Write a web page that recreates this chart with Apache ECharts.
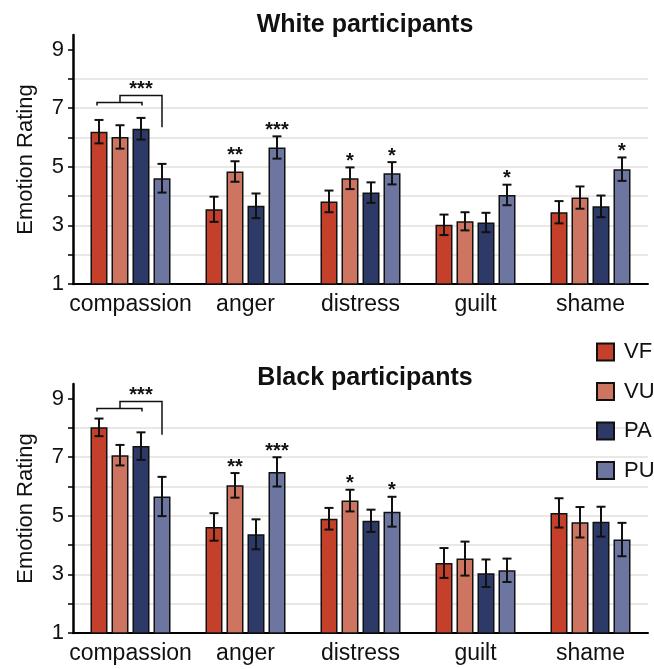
<!DOCTYPE html>
<html>
<head>
<meta charset="utf-8">
<script src="https://cdn.jsdelivr.net/npm/echarts@6/dist/echarts.min.js"></script>
<style>
  html, body { margin: 0; padding: 0; background: #fff; }
  #chart { width: 654px; height: 669px; }
</style>
</head>
<body>
<div id="chart"></div>
<script>
// Emotion categories and the four conditions
const emotions = ['compassion', 'anger', 'distress', 'guilt', 'shame'];
const conditions = ['VF', 'VU', 'PA', 'PU'];
const panelTitles = ['White participants', 'Black participants'];

// Y-axis ticks and labels
const yTickValues = [1, 2, 3, 4, 5, 6, 7, 8, 9];
const yLabelValues = [1, 3, 5, 7, 9];

// White participants: mean ratings
const whiteVF = [6.20, 3.55, 3.82, 3.02, 3.45];
const whiteVU = [6.02, 4.84, 4.61, 3.14, 3.95];
const whitePA = [6.30, 3.67, 4.12, 3.10, 3.65];
const whitePU = [4.61, 5.66, 4.78, 4.04, 4.92];
// White participants: error bar half-widths
const whiteErrVF = [0.40, 0.43, 0.37, 0.35, 0.38];
const whiteErrVU = [0.40, 0.35, 0.37, 0.31, 0.38];
const whiteErrPA = [0.37, 0.42, 0.35, 0.33, 0.37];
const whiteErrPU = [0.49, 0.38, 0.38, 0.35, 0.40];
// White participants: significance marks
const whiteSigVF = ['', '', '', '', ''];
const whiteSigVU = ['', '**', '*', '', ''];
const whiteSigPA = ['', '', '', '', ''];
const whiteSigPU = ['', '***', '*', '*', '*'];

// Black participants: mean ratings
const blackVF = [8.02, 4.62, 4.90, 3.39, 5.10];
const blackVU = [7.07, 6.04, 5.52, 3.54, 4.78];
const blackPA = [7.38, 4.37, 4.83, 3.04, 4.80];
const blackPU = [5.66, 6.50, 5.14, 3.14, 4.19];
// Black participants: error bar half-widths
const blackErrVF = [0.30, 0.47, 0.37, 0.51, 0.50];
const blackErrVU = [0.35, 0.42, 0.37, 0.58, 0.52];
const blackErrPA = [0.47, 0.51, 0.38, 0.47, 0.51];
const blackErrPU = [0.67, 0.50, 0.51, 0.40, 0.57];
// Black participants: significance marks
const blackSigVF = ['', '', '', '', ''];
const blackSigVU = ['', '**', '*', '', ''];
const blackSigPA = ['', '', '', '', ''];
const blackSigPU = ['', '***', '*', '', ''];

// Compassion bracket: "***" for VF/VU/PA vs PU
const bracketLabel = '***';

const panels = [
  {
    means: [whiteVF, whiteVU, whitePA, whitePU],
    errs: [whiteErrVF, whiteErrVU, whiteErrPA, whiteErrPU],
    sigs: [whiteSigVF, whiteSigVU, whiteSigPA, whiteSigPU],
    bracket: { low: 7.20, drop: 6.35 }
  },
  {
    means: [blackVF, blackVU, blackPA, blackPU],
    errs: [blackErrVF, blackErrVU, blackErrPA, blackErrPU],
    sigs: [blackSigVF, blackSigVU, blackSigPA, blackSigPU],
    bracket: { low: 8.66, drop: 7.77 }
  }
];

const COLORS = ['#c4402a', '#cd7561', '#2d3966', '#6d75a1'];
const FONT = "'Liberation Sans', Arial, Helvetica, sans-serif";
const BAR_W = 17;
const BAR_GAP = 4;
const STEP = BAR_W + BAR_GAP;

function barOffset(cond) {
  return (cond - 1.5) * STEP;
}

function errorRenderer(items) {
  return function (params, api) {
    const it = items[params.dataIndex];
    const center = api.coord([it.cat, it.mean]);
    const x = center[0] + barOffset(it.cond);
    const yHi = api.coord([it.cat, it.mean + it.err])[1];
    const yLo = api.coord([it.cat, it.mean - it.err])[1];
    const ls = { stroke: '#111', lineWidth: 2 };
    const children = [
      { type: 'line', shape: { x1: x, y1: yHi, x2: x, y2: yLo }, style: ls },
      { type: 'line', shape: { x1: x - 4.5, y1: yHi, x2: x + 4.5, y2: yHi }, style: ls },
      { type: 'line', shape: { x1: x - 4.5, y1: yLo, x2: x + 4.5, y2: yLo }, style: ls }
    ];
    if (it.sig) {
      children.push({
        type: 'text',
        style: {
          text: it.sig, x: x, y: yHi - 6,
          align: 'center', verticalAlign: 'middle',
          font: 'bold 20px ' + FONT, fill: '#111'
        }
      });
    }
    return { type: 'group', children: children };
  };
}

function bracketRenderer(br) {
  return function (params, api) {
    const c0 = api.coord([0, br.low]);
    const cx = c0[0];
    const yLow = c0[1];
    const yUp = yLow - 7;
    const yDrop = api.coord([0, br.drop])[1];
    const xVF = cx + barOffset(0), xVU = cx + barOffset(1);
    const xPA = cx + barOffset(2), xPU = cx + barOffset(3);
    const ls = { stroke: '#111', lineWidth: 1.5, fill: null };
    return {
      type: 'group',
      children: [
        { type: 'polyline', shape: { points: [[xVF - 2, yLow + 3], [xVF - 2, yLow], [xPA + 1, yLow], [xPA + 1, yLow + 3]] }, style: ls },
        { type: 'polyline', shape: { points: [[xVU, yLow], [xVU, yUp], [xPU, yUp], [xPU, yDrop]] }, style: ls },
        {
          type: 'text',
          style: {
            text: bracketLabel, x: (xVU + xPU) / 2, y: yUp - 6,
            align: 'center', verticalAlign: 'middle',
            font: 'bold 20px ' + FONT, fill: '#111'
          }
        }
      ]
    };
  };
}

const grids = [
  { left: 73, top: 35, width: 575, height: 249 },
  { left: 73, top: 384, width: 575, height: 249 }
];

const xAxes = grids.map((g, i) => ({
  type: 'category',
  gridIndex: i,
  data: emotions,
  axisTick: { show: false },
  axisLine: { lineStyle: { color: '#000', width: 2 } },
  axisLabel: { interval: 0, fontSize: 23, color: '#111', fontFamily: FONT, margin: 9 }
}));

const yAxes = grids.map((g, i) => ({
  type: 'value',
  gridIndex: i,
  min: 1,
  max: 9.5,
  interval: 1,
  name: 'Emotion Rating',
  nameLocation: 'middle',
  nameGap: 36,
  nameTextStyle: { fontSize: 22, color: '#111', fontFamily: FONT },
  axisLine: { show: true, lineStyle: { color: '#000', width: 2.5 } },
  axisTick: { show: true, length: 5, customValues: yTickValues, lineStyle: { color: '#000', width: 1.5 } },
  axisLabel: { fontSize: 22, color: '#111', fontFamily: FONT, margin: 9, customValues: yLabelValues },
  splitLine: { show: true, showMinLine: false, showMaxLine: false, lineStyle: { color: '#e4dfdd', width: 1.5 } }
}));

const series = [];
panels.forEach((p, pi) => {
  conditions.forEach((cond, ci) => {
    series.push({
      name: cond,
      type: 'bar',
      xAxisIndex: pi,
      yAxisIndex: pi,
      data: p.means[ci],
      barWidth: BAR_W,
      barGap: (BAR_GAP / BAR_W * 100).toFixed(2) + '%',
      itemStyle: { color: COLORS[ci], borderColor: '#111', borderWidth: 1.5 },
      silent: true
    });
  });
  const items = [];
  conditions.forEach((cond, ci) => {
    emotions.forEach((e, ei) => {
      items.push({ cat: ei, cond: ci, mean: p.means[ci][ei], err: p.errs[ci][ei], sig: p.sigs[ci][ei] });
    });
  });
  series.push({
    type: 'custom',
    xAxisIndex: pi,
    yAxisIndex: pi,
    data: items.map(d => [d.cat, d.mean]),
    encode: { x: 0, y: 1 },
    renderItem: errorRenderer(items),
    z: 5,
    silent: true
  });
  series.push({
    type: 'custom',
    xAxisIndex: pi,
    yAxisIndex: pi,
    data: [[0, p.bracket.low]],
    encode: { x: 0, y: 1 },
    renderItem: bracketRenderer(p.bracket),
    z: 5,
    silent: true
  });
});

const chart = echarts.init(document.getElementById('chart'), null, { renderer: 'canvas' });
chart.setOption({
  animation: false,
  backgroundColor: '#fff',
  title: panelTitles.map((t, i) => ({
    text: t,
    left: 360,
    top: i === 0 ? 8 : 361,
    textAlign: 'center',
    textStyle: { fontSize: 25, fontWeight: 'bold', color: '#111', fontFamily: FONT }
  })),
  legend: {
    data: conditions,
    orient: 'vertical',
    left: 591,
    top: 336,
    itemWidth: 17,
    itemHeight: 17,
    itemGap: 17.5,
    icon: 'rect',
    textStyle: { fontSize: 22, color: '#111', fontFamily: FONT, padding: [0, 0, 0, 5] }
  },
  grid: grids,
  xAxis: xAxes,
  yAxis: yAxes,
  series: series
});
</script>
</body>
</html>
